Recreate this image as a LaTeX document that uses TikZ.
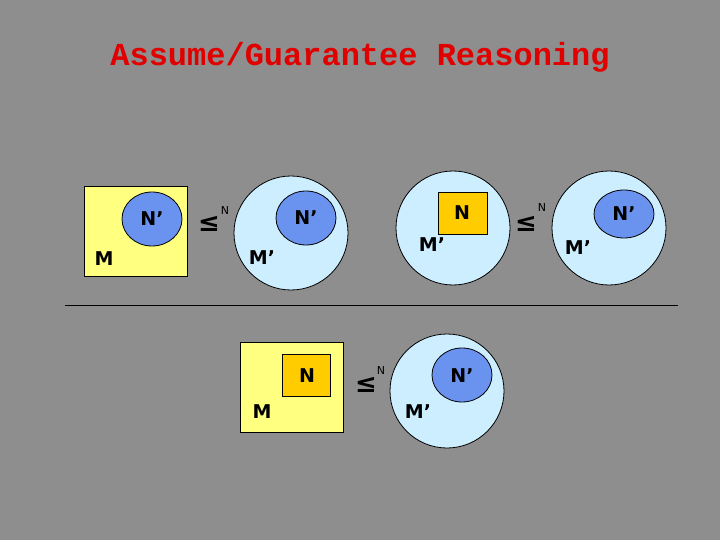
\documentclass[tikz,border=0pt]{standalone}
\usepackage{fontspec}
\setmainfont{DejaVu Sans}
\newfontfamily\titlefont{Liberation Mono}
\definecolor{bg}{HTML}{8E8E8E}
\definecolor{yel}{HTML}{FFFF80}
\definecolor{lblue}{HTML}{CCEEFF}
\definecolor{dblue}{HTML}{6A93F0}
\definecolor{orng}{HTML}{FFCC00}
\definecolor{ttl}{HTML}{E00000}
\begin{document}
\begin{tikzpicture}[x=1pt,y=-1pt,
  yelbox/.style={draw=black,fill=yel,line width=0.8pt},
  orbox/.style={draw=black,fill=orng,line width=0.8pt},
  big/.style={draw=black,fill=lblue,line width=0.8pt},
  inner/.style={draw=black,fill=dblue,line width=0.8pt},
  lbl/.style={font=\fontsize{19}{19}\selectfont\bfseries},
  rel/.style={font=\fontsize{26}{26}\selectfont\bfseries,inner sep=0pt},
  sup/.style={font=\fontsize{11}{11}\selectfont,inner sep=0pt}]
\fill[bg] (0,0) rectangle (720,540);
\useasboundingbox (0,0) rectangle (720,540);
\node[text=ttl,font=\titlefont\bfseries\fontsize{32}{32}\selectfont] (title) at (360,57) {Assume/Guarantee Reasoning};
% top row
\draw[yelbox] (84,186) rectangle (187,276);
\draw[inner] (152,219) ellipse (30 and 27);
\node[lbl] (n1) at (152,219) {N'};
\node[lbl] (m1) at (104,259) {M};
\node[rel] (r1) at (209,224) {≤};
\node[sup] (s1) at (225,210) {N};
\draw[big] (291,233) circle (57);
\draw[inner] (306,218) ellipse (30 and 27);
\node[lbl] (n2) at (306,218) {N'};
\node[lbl] (m2) at (262,258) {M'};
\draw[big] (453,228) circle (57);
\draw[orbox] (438,192) rectangle (487,234);
\node[lbl] (n3) at (462,213) {N};
\node[lbl] (m3) at (432,245) {M'};
\node[rel] (r2) at (526,224) {≤};
\node[sup] (s2) at (542,207) {N};
\draw[big] (609,228) circle (57);
\draw[inner] (624,214) ellipse (30 and 24);
\node[lbl] (n4) at (624,214) {N'};
\node[lbl] (m4) at (578,248) {M'};
% line
\coordinate (la) at (65,305);
\coordinate (lb) at (678,305);
\draw[line width=0.6pt] (la) -- (lb);
% bottom row
\draw[yelbox] (240,342) rectangle (343,432);
\draw[orbox] (282,354) rectangle (330,396);
\node[lbl] (n5) at (307,376) {N};
\node[lbl] (m5) at (262,412) {M};
\node[rel] (r3) at (366,385) {≤};
\node[sup] (s3) at (381,370) {N};
\draw[big] (447,391) circle (57);
\draw[inner] (462,375) ellipse (30 and 27);
\node[lbl] (n6) at (462,376) {N'};
\node[lbl] (m6) at (418,412) {M'};
\end{tikzpicture}
\end{document}
